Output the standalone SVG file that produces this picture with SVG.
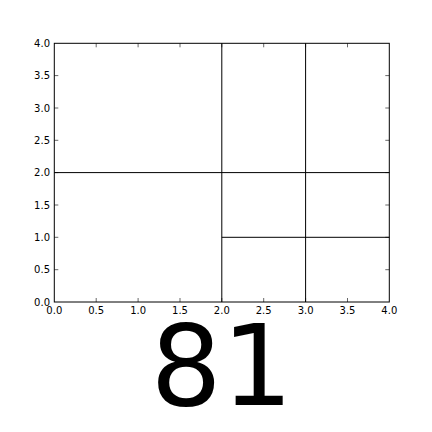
<svg xmlns="http://www.w3.org/2000/svg" width="432" height="432" viewBox="0 0 432 432">
<style>
.ax{fill:none;stroke:#000;stroke-width:1}
.tk{stroke:#000;stroke-width:0.6}
.tl{font-family:"DejaVu Sans",sans-serif;font-size:10px;fill:#000}
.yl{text-anchor:end}
.xl{text-anchor:middle}
.ln{stroke:#000;stroke-width:1}
</style>
<rect width="432" height="432" fill="#fff"/>
<g id="ticks">
<path class="tk" d="M96.2,302v-4M138.1,302v-4M180,302v-4M221.8,302v-4M263.7,302v-4M305.6,302v-4M347.5,302v-4M96.2,43.3v4M138.1,43.3v4M180,43.3v4M221.8,43.3v4M263.7,43.3v4M305.6,43.3v4M347.5,43.3v4"/>
<path class="tk" d="M54.3,269.7h4M54.3,237.3h4M54.3,205h4M54.3,172.6h4M54.3,140.3h4M54.3,108h4M54.3,75.6h4M389.3,269.7h-4M389.3,237.3h-4M389.3,205h-4M389.3,172.6h-4M389.3,140.3h-4M389.3,108h-4M389.3,75.6h-4"/>
</g>
<g id="connectors">
<line class="ln" x1="221.8" y1="43.3" x2="221.8" y2="302"/>
<line class="ln" x1="305.6" y1="43.3" x2="305.6" y2="302"/>
<line class="ln" x1="54.3" y1="172.6" x2="389.3" y2="172.6"/>
<line class="ln" x1="221.8" y1="237.3" x2="389.3" y2="237.3"/>
</g>
<rect id="axes" class="ax" x="54.3" y="43.3" width="335" height="258.7"/>
<g id="ylabels" class="tl yl">
<text x="50" y="305.5">0.0</text>
<text x="50" y="273.2">0.5</text>
<text x="50" y="240.8">1.0</text>
<text x="50" y="208.5">1.5</text>
<text x="50" y="176.1">2.0</text>
<text x="50" y="143.8">2.5</text>
<text x="50" y="111.5">3.0</text>
<text x="50" y="79.1">3.5</text>
<text x="50" y="46.8">4.0</text>
</g>
<g id="xlabels" class="tl xl">
<text x="54.3" y="314">0.0</text>
<text x="96.2" y="314">0.5</text>
<text x="138.1" y="314">1.0</text>
<text x="180" y="314">1.5</text>
<text x="221.8" y="314">2.0</text>
<text x="263.7" y="314">2.5</text>
<text x="305.6" y="314">3.0</text>
<text x="347.5" y="314">3.5</text>
<text x="389.3" y="314">4.0</text>
</g>
<text id="title" x="221.8" y="405" font-family="DejaVu Sans, sans-serif" font-size="112" text-anchor="middle" fill="#000">81</text>
</svg>
